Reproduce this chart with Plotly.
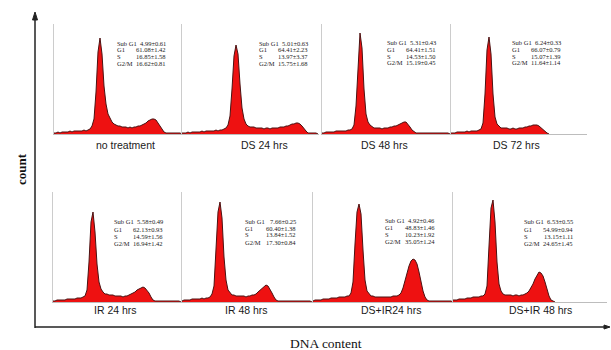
import plotly.graph_objects as go

# ---------------- data ----------------
panel_names = ["no treatment", "DS 24 hrs", "DS 48 hrs", "DS 72 hrs",
               "IR 24 hrs", "IR 48 hrs", "DS+IR24 hrs", "DS+IR 48 hrs"]
phase_labels = ["Sub G1", "G1", "S", "G2/M"]

means_no_treatment = [4.99, 61.08, 16.85, 16.62]
sds_no_treatment = [0.61, 1.42, 1.58, 0.81]
means_ds24 = [5.01, 64.41, 13.97, 15.75]
sds_ds24 = [0.63, 2.23, 3.37, 1.68]
means_ds48 = [5.31, 64.41, 14.53, 15.19]
sds_ds48 = [0.43, 1.51, 1.50, 0.45]
means_ds72 = [6.24, 66.07, 15.07, 11.64]
sds_ds72 = [0.33, 0.79, 1.39, 1.14]
means_ir24 = [5.58, 62.13, 14.59, 16.94]
sds_ir24 = [0.49, 0.93, 1.56, 1.42]
means_ir48 = [7.66, 60.40, 13.84, 17.30]
sds_ir48 = [0.25, 1.38, 1.52, 0.84]
means_dsir24 = [4.92, 48.83, 10.23, 35.05]
sds_dsir24 = [0.46, 1.46, 1.92, 1.24]
means_dsir48 = [6.53, 54.99, 13.15, 24.65]
sds_dsir48 = [0.55, 0.94, 1.11, 1.45]

# histogram counts per DNA channel
counts_no_treatment = [1, 1, 2, 1, 2, 2, 2, 2, 3, 2, 3, 3, 3, 3, 3, 4, 3, 4, 5,
                       8, 15, 42, 82, 96, 80, 48, 30, 20, 15, 12, 10,
                       9, 8, 8, 7, 7, 7, 6, 7, 6, 7, 7, 8, 8, 9,
                       10, 11, 13, 14, 15, 15, 14, 11, 8, 5, 2, 1,
                       1, 1, 1, 1, 1, 1, 1, 0]
counts_ds24 = [1, 1, 1, 2, 1, 2, 2, 2, 2, 2, 3, 2, 3, 3, 3, 3, 3, 4, 3, 4, 4, 5, 6,
               9, 18, 45, 78, 89, 80, 50, 26, 15, 10, 8,
               7, 7, 7, 6, 6, 6, 6, 5, 6, 6, 5, 6, 6, 6, 6, 7, 7, 7,
               8, 8, 9, 10, 10, 11, 11, 10, 8, 5, 3, 1,
               1, 1, 1, 1, 0]
counts_ds48 = [1, 1, 2, 2, 2, 2, 2, 3, 3, 3, 3, 3, 3, 4, 4, 5,
               9, 28, 72, 101, 86, 45, 20, 12, 9,
               7, 6, 6, 6, 6, 5, 6, 6, 6, 7, 7, 8,
               8, 9, 10, 11, 12, 12, 10, 7, 4, 2, 1,
               1, 1, 1, 1, 1, 1, 1, 1, 1, 1, 1, 1, 1, 1, 1, 1, 0]
counts_ds72 = [1, 1, 1, 2, 2, 2, 2, 2, 3, 2, 3, 3, 3, 3, 4, 5,
               11, 40, 84, 97, 80, 40, 17, 10, 8,
               6, 6, 6, 6, 5, 5, 6, 5, 5, 6, 6, 6,
               7, 7, 8, 8, 9, 9, 9, 8, 6, 4, 2, 1, 0]
counts_ir24 = [1, 1, 2, 2, 2, 2, 2, 3, 3, 3, 3, 3, 4, 4, 4, 5, 6,
               12, 40, 80, 90, 70, 38, 20, 13, 10,
               8, 8, 7, 7, 7, 6, 6, 6, 6, 5, 6, 6, 7,
               8, 9, 10, 12, 13, 14, 15, 14, 12, 9, 5, 2, 1,
               1, 1, 1, 1, 1, 1, 1, 1, 1, 1, 1, 1, 0]
counts_ir48 = [1, 2, 2, 2, 2, 3, 3, 3, 3, 3, 4, 3, 4, 4, 5,
               8, 16, 52, 90, 100, 84, 45, 22, 12, 9,
               7, 7, 6, 6, 6, 6, 6, 5, 6, 6, 7, 7,
               8, 10, 12, 14, 16, 17, 16, 13, 9, 5, 2, 1,
               1, 1, 1, 1, 1, 1, 1, 1, 1, 1, 1, 1, 1, 1, 1, 1, 0]
counts_dsir24 = [1, 2, 2, 2, 2, 3, 3, 3, 3, 4, 4, 4, 4, 5, 5, 5, 5, 6, 6,
                 9, 20, 58, 90, 98, 88, 52, 22, 11, 8,
                 6, 6, 5, 5, 5, 5, 5, 5, 5, 5, 5, 6, 6, 6, 7,
                 9, 14, 22, 30, 36, 41, 43, 42, 38, 30, 20, 11, 5, 2,
                 1, 1, 1, 1, 1, 1, 1, 1, 1, 1, 1, 1, 0]
counts_dsir48 = [2, 2, 2, 3, 3, 3, 3, 4, 4, 4, 5, 5, 5, 5, 6, 6, 8,
                 16, 56, 94, 102, 80, 40, 18, 11, 8,
                 7, 7, 7, 7, 6, 7, 7, 6, 7, 7, 8, 9,
                 11, 14, 18, 23, 27, 30, 29, 26, 20, 12, 6, 2, 1, 0]

all_counts = [counts_no_treatment, counts_ds24, counts_ds48, counts_ds72,
              counts_ir24, counts_ir48, counts_dsir24, counts_dsir48]
all_means = [means_no_treatment, means_ds24, means_ds48, means_ds72,
             means_ir24, means_ir48, means_dsir24, means_dsir48]
all_sds = [sds_no_treatment, sds_ds24, sds_ds48, sds_ds72,
           sds_ir24, sds_ir48, sds_dsir24, sds_dsir48]

# ---------------- layout geometry (pixels) ----------------
W, H = 611, 350
panel_left = [54, 182, 322, 451, 53, 182, 313, 453]
panel_width = [128, 137, 128, 136, 129, 131, 140, 154]
panel_base = [134, 134, 134, 134, 302, 302, 302, 302]
panel_height = 110
px_per_channel = 2
title_pos = [(125, 145), (264, 145), (384, 145), (516, 145),
             (115, 310), (246, 310), (391, 310), (540, 310)]
stats_pos = [(115, 168, 43), (257, 310, 43), (385, 438, 42), (510, 563, 42),
             (112, 165, 222), (243, 298, 221), (383, 437, 220), (522, 575, 222)]
row_step = 7


def X(p):
    return p / W


def Y(p):
    return 1 - p / H


fig = go.Figure()
layout_axes = {}
annotations = []

for i, counts in enumerate(all_counts):
    sfx = "" if i == 0 else str(i + 1)
    fig.add_trace(go.Scatter(
        x=list(range(len(counts))), y=counts, mode="lines",
        fill="tozeroy", fillcolor="#ee1111",
        line=dict(color="#4a1212", width=1),
        xaxis="x" + sfx, yaxis="y" + sfx,
        hoverinfo="skip", showlegend=False))
    left, wdt, base = panel_left[i], panel_width[i], panel_base[i]
    layout_axes["xaxis" + sfx] = dict(
        domain=[X(left), X(left + wdt)], range=[0, wdt / px_per_channel],
        anchor="y" + sfx, showline=True, linecolor="#bdbdbd", linewidth=1,
        showgrid=False, zeroline=False, showticklabels=False, ticks="")
    layout_axes["yaxis" + sfx] = dict(
        domain=[Y(base), Y(base - panel_height)], range=[0, panel_height],
        anchor="x" + sfx, showline=True, linecolor="#cccccc", linewidth=1,
        showgrid=False, zeroline=False, showticklabels=False, ticks="")

    tx, ty = title_pos[i]
    annotations.append(dict(
        x=X(tx), y=Y(ty), xref="paper", yref="paper", text=panel_names[i],
        showarrow=False, xanchor="center", yanchor="middle",
        font=dict(family="Liberation Sans, Arial", size=10.5, color="#1a1a1a")))

    lx, rx, y0 = stats_pos[i]
    for k, lab in enumerate(phase_labels):
        yy = y0 + k * row_step
        annotations.append(dict(
            x=X(lx), y=Y(yy), xref="paper", yref="paper", text=lab,
            showarrow=False, xanchor="left", yanchor="middle",
            font=dict(family="Liberation Serif, Times New Roman", size=6.5,
                      color="#222222")))
        annotations.append(dict(
            x=X(rx), y=Y(yy), xref="paper", yref="paper",
            text=f"{all_means[i][k]:.2f}±{all_sds[i][k]:.2f}",
            showarrow=False, xanchor="right", yanchor="middle",
            font=dict(family="Liberation Serif, Times New Roman", size=6.5,
                      color="#222222")))

# axis titles
annotations.append(dict(
    x=X(21), y=Y(169), xref="paper", yref="paper", text="<b>count</b>",
    textangle=-90, showarrow=False, xanchor="center", yanchor="middle",
    font=dict(family="Liberation Serif, Times New Roman", size=13, color="#111111")))
annotations.append(dict(
    x=X(326), y=Y(343), xref="paper", yref="paper", text="DNA content",
    showarrow=False, xanchor="center", yanchor="middle",
    font=dict(family="Liberation Serif, Times New Roman", size=13.5, color="#111111")))

shapes = [
    dict(type="line", xref="paper", yref="paper",
         x0=X(35), x1=X(35), y0=Y(328), y1=Y(18),
         line=dict(color="#222222", width=1.5)),
    dict(type="path", xref="paper", yref="paper",
         path=f"M {X(32.5)},{Y(20)} L {X(37.5)},{Y(20)} L {X(35)},{Y(12)} Z",
         fillcolor="#222222", line=dict(color="#222222", width=1)),
    dict(type="line", xref="paper", yref="paper",
         x0=X(35), x1=X(605), y0=Y(327), y1=Y(327),
         line=dict(color="#222222", width=1.5)),
    dict(type="path", xref="paper", yref="paper",
         path=f"M {X(604)},{Y(325)} L {X(604)},{Y(329)} L {X(610)},{Y(327)} Z",
         fillcolor="#222222", line=dict(color="#222222", width=1)),
]

fig.update_layout(
    width=W, height=H, autosize=False,
    margin=dict(l=0, r=0, t=0, b=0),
    paper_bgcolor="white", plot_bgcolor="white",
    showlegend=False, annotations=annotations, shapes=shapes,
    **layout_axes)

fig.write_html("out.html",
               config={"displayModeBar": False, "staticPlot": True},
               post_script="document.body.style.margin='0';"
                           "document.body.style.overflow='hidden';")
